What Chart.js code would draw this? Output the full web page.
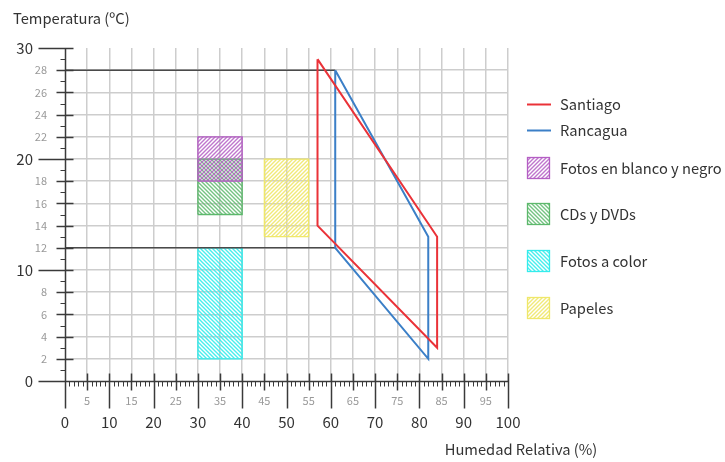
<!DOCTYPE html>
<html>
<head>
<meta charset="utf-8">
<script src="https://cdn.jsdelivr.net/npm/chart.js@4/dist/chart.umd.min.js"></script>
<style>
  html, body { margin: 0; padding: 0; background: #fff; }
  #wrap { width: 725px; height: 462px; position: relative; }
</style>
</head>
<body>
<div id="wrap"><canvas id="c"></canvas></div>
<script>
// Comfort zones: relative humidity (%) vs temperature (°C)
const santiagoHR = [57, 84, 84, 57, 57];
const santiagoT  = [29, 13, 3, 14, 29];
const rancaguaHR = [61, 82, 82, 61, 61];
const rancaguaT  = [28, 13, 2, 12, 28];

const zoneNames = ['Fotos en blanco y negro', 'CDs y DVDs', 'Fotos a color', 'Papeles'];
const zoneHR = [[30, 40], [30, 40], [30, 40], [45, 55]];
const zoneT  = [[18, 22], [15, 20], [2, 12], [13, 20]];

const xTitle = 'Humedad Relativa (%)';
const yTitle = 'Temperatura (ºC)';

const FONT = "'Noto Sans CJK JP', 'Noto Sans', sans-serif";
Chart.defaults.font.family = FONT;

function hatch(color, dir) {
  const s = 4;
  const c = document.createElement('canvas');
  c.width = c.height = s;
  const g = c.getContext('2d');
  g.strokeStyle = color;
  g.lineWidth = 1.4;
  g.beginPath();
  if (dir > 0) {
    g.moveTo(0, s); g.lineTo(s, 0);
    g.moveTo(-1, 1); g.lineTo(1, -1);
    g.moveTo(s - 1, s + 1); g.lineTo(s + 1, s - 1);
  } else {
    g.moveTo(0, 0); g.lineTo(s, s);
    g.moveTo(-1, s - 1); g.lineTo(1, s + 1);
    g.moveTo(s - 1, -1); g.lineTo(s + 1, 1);
  }
  g.stroke();
  return g.createPattern(c, 'repeat');
}

const zoneStyle = [
  { stroke: '#b45ec4', stripe: 'rgba(180,94,196,0.85)', dir: 1 },
  { stroke: '#5db86c', stripe: 'rgba(93,184,108,0.85)', dir: -1 },
  { stroke: '#34ecec', stripe: 'rgba(52,236,236,0.9)', dir: -1 },
  { stroke: '#efe76a', stripe: 'rgba(239,231,106,0.9)', dir: 1 }
];

const pts = (xs, ys) => xs.map((v, i) => ({ x: v, y: ys[i] }));
const rect = (hr, t) => [
  { x: hr[0], y: t[0] }, { x: hr[1], y: t[0] },
  { x: hr[1], y: t[1] }, { x: hr[0], y: t[1] }, { x: hr[0], y: t[0] }
];

const datasets = [
  { label: 'Santiago', data: pts(santiagoHR, santiagoT), borderColor: '#ea3238',
    borderWidth: 2, order: 0, kind: 'line' },
  { label: 'Rancagua', data: pts(rancaguaHR, rancaguaT), borderColor: '#3b7fc7',
    borderWidth: 2, order: 0, kind: 'line' }
];
zoneNames.forEach((name, i) => {
  datasets.push({
    label: name, data: rect(zoneHR[i], zoneT[i]),
    borderColor: zoneStyle[i].stroke, borderWidth: 1.3,
    backgroundColor: hatch(zoneStyle[i].stripe, zoneStyle[i].dir),
    fill: 'shape', order: 2, kind: 'box'
  });
});
// reference lines at the upper and lower limits of the Rancagua zone
[0, 3].forEach(k => {
  datasets.push({
    label: '', data: [{ x: 0, y: rancaguaT[k] }, { x: rancaguaHR[k], y: rancaguaT[k] }],
    borderColor: '#4a4a4a', borderWidth: 1.5, order: 1, kind: 'guide'
  });
});
datasets.forEach(d => { d.showLine = true; d.pointRadius = 0; d.tension = 0; });

const gridColor = '#cdcdcd';
const TEXT_SIZE = 14.7;

const axisMarks = {
  id: 'axisMarks',
  afterDraw(chart) {
    const { ctx } = chart;
    const xs = chart.scales.x, ys = chart.scales.y;
    const x0 = Math.round(xs.getPixelForValue(0)) + 0.5;
    const y0 = Math.round(ys.getPixelForValue(0)) + 0.5;
    const line = (a, b, c, d, w) => {
      ctx.lineWidth = w; ctx.beginPath(); ctx.moveTo(a, b); ctx.lineTo(c, d); ctx.stroke();
    };
    ctx.save();
    ctx.strokeStyle = '#3a3a3a';
    for (let v = 1; v <= 30; v++) {
      const p = Math.round(ys.getPixelForValue(v)) + 0.5;
      if (v % 10 === 0) line(x0 - 27, p, x0 + 8, p, 1.5);
      else if (v % 2 === 0) line(x0 - 9, p, x0 + 8, p, 1.5);
      else line(x0 - 5, p, x0, p, 1);
    }
    for (let v = 1; v <= 100; v++) {
      const p = Math.round(xs.getPixelForValue(v)) + 0.5;
      if (v % 10 === 0) line(p, y0 - 8, p, y0 + 27, 1.5);
      else if (v % 5 === 0) line(p, y0 - 8, p, y0 + 9, 1.5);
      else line(p, y0, p, y0 + 5, 1);
    }
    line(x0, Math.round(ys.getPixelForValue(30)), x0, y0 + 27, 1.5);
    line(x0 - 27, y0, Math.round(xs.getPixelForValue(100)) + 1, y0, 1.5);

    ctx.fillStyle = '#333';
    ctx.font = TEXT_SIZE + 'px ' + FONT;
    ctx.textAlign = 'center';
    ctx.textBaseline = 'middle';
    ctx.fillText(xTitle, xs.right + 13, 449);
    ctx.restore();
  }
};

const sideLegend = {
  id: 'sideLegend',
  afterDraw(chart) {
    const { ctx } = chart;
    const rows = [104, 130, 168, 214, 261, 308];
    const left = chart.chartArea.right + 19;
    ctx.save();
    ctx.font = TEXT_SIZE + 'px ' + FONT;
    ctx.textBaseline = 'middle';
    ctx.textAlign = 'left';
    let r = 0;
    chart.data.datasets.forEach(d => {
      if (!d.label) return;
      const y = rows[r++];
      if (d.kind === 'line') {
        ctx.strokeStyle = d.borderColor;
        ctx.lineWidth = 2;
        ctx.beginPath(); ctx.moveTo(left, y + 0.5); ctx.lineTo(left + 24, y + 0.5); ctx.stroke();
      } else {
        ctx.fillStyle = d.backgroundColor;
        ctx.fillRect(left, y - 11, 23, 22);
        ctx.strokeStyle = d.borderColor;
        ctx.lineWidth = 1.3;
        ctx.strokeRect(left + 0.5, y - 10.5, 22, 21);
      }
      ctx.fillStyle = '#333';
      ctx.fillText(d.label, left + 33, y);
    });
    ctx.restore();
  }
};

new Chart(document.getElementById('c'), {
  type: 'scatter',
  data: { datasets },
  options: {
    responsive: true,
    maintainAspectRatio: false,
    animation: false,
    layout: { padding: { left: 13, right: 217, top: 0, bottom: 0 } },
    plugins: {
      legend: { display: false },
      tooltip: { enabled: false },
      title: {
        display: true, text: yTitle, align: 'start', color: '#333',
        font: { size: TEXT_SIZE, weight: 'normal' },
        padding: { top: 9.2, bottom: 21.2 }
      }
    },
    scales: {
      x: {
        type: 'linear', position: 'bottom', min: 0, max: 100, weight: 0,
        ticks: { stepSize: 5, autoSkip: false, maxRotation: 0, padding: 13,
                 color: '#999', font: { size: 11 },
                 callback: v => (v % 10 ? v : '') },
        grid: { drawTicks: false, lineWidth: 1.5,
                color: c => (c.tick && c.tick.value === 0 ? 'rgba(0,0,0,0)' : gridColor) },
        border: { display: false },
        afterFit: s => { s.height = 26; }
      },
      x2: {
        type: 'linear', position: 'bottom', min: 0, max: 100, weight: 1,
        ticks: { stepSize: 10, autoSkip: false, maxRotation: 0, padding: 6,
                 color: '#333', font: { size: 15 } },
        grid: { display: false, drawTicks: false },
        border: { display: false },
        afterFit: s => { s.height = 55; }
      },
      y: {
        type: 'linear', position: 'left', min: 0, max: 30, weight: 0,
        ticks: { stepSize: 2, autoSkip: false, padding: 18,
                 color: '#999', font: { size: 11 },
                 callback: v => (v % 10 ? v : '') },
        grid: { drawTicks: false, lineWidth: 1.5,
                color: c => (c.tick && (c.tick.value === 0 || c.tick.value === 30) ? 'rgba(0,0,0,0)' : gridColor) },
        border: { display: false },
        afterFit: s => { s.width = 30; }
      },
      y2: {
        type: 'linear', position: 'left', min: 0, max: 30, weight: 1,
        ticks: { stepSize: 10, autoSkip: false, padding: 2,
                 color: '#333', font: { size: 15 } },
        grid: { display: false, drawTicks: false },
        border: { display: false },
        afterFit: s => { s.width = 22; }
      }
    }
  },
  plugins: [axisMarks, sideLegend]
});
</script>
</body>
</html>
